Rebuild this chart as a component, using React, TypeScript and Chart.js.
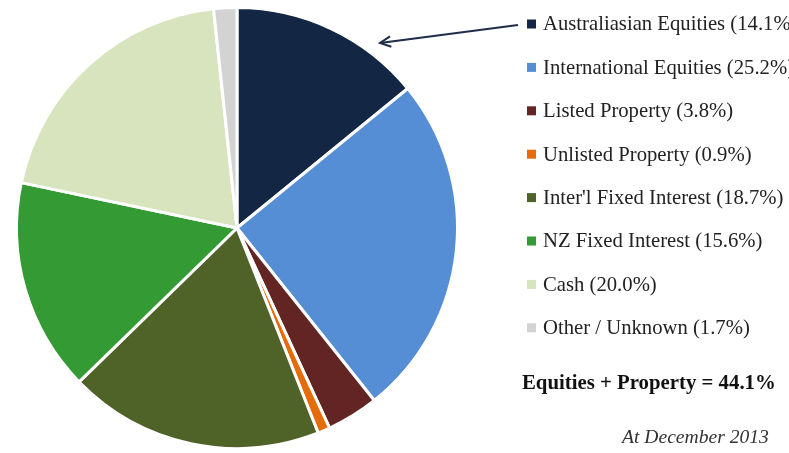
import React, { useEffect, useRef } from "react";
import { Chart, registerables } from "chart.js";

Chart.register(...registerables);

const categories = [
  "Australiasian Equities",
  "International Equities",
  "Listed Property",
  "Unlisted Property",
  "Inter'l Fixed Interest",
  "NZ Fixed Interest",
  "Cash",
  "Other / Unknown",
];
const values = [14.1, 25.2, 3.8, 0.9, 18.7, 15.6, 20.0, 1.7];
const colors = [
  "#132744",
  "#558ed5",
  "#632523",
  "#e46c0a",
  "#4f6228",
  "#349a34",
  "#d7e4bd",
  "#d3d3d3",
];
const summaryText = "Equities + Property = 44.1%";
const dateText = "At December 2013";

const FONT = '"Liberation Serif", "Times New Roman", serif';

const overlayPlugin = {
  id: "overlay",
  afterDraw(chart: any) {
    const ctx = chart.ctx as CanvasRenderingContext2D;
    ctx.save();
    const x0 = 527;
    const y0 = 24;
    const step = 43.4;
    ctx.font = `20.7px ${FONT}`;
    ctx.textBaseline = "middle";
    ctx.textAlign = "left";
    categories.forEach((c, i) => {
      const y = y0 + i * step;
      ctx.fillStyle = colors[i];
      ctx.fillRect(x0, y - 4.5, 9, 9);
      ctx.fillStyle = "#222";
      ctx.fillText(`${c} (${values[i].toFixed(1)}%)`, x0 + 16, y + 1);
    });
    ctx.font = `bold 20.8px ${FONT}`;
    ctx.fillStyle = "#111";
    ctx.fillText(summaryText, 522, 384);
    ctx.font = `italic 19.6px ${FONT}`;
    ctx.fillStyle = "#333";
    ctx.fillText(dateText, 622, 438);
    ctx.strokeStyle = "#1f2d4a";
    ctx.lineWidth = 2;
    ctx.beginPath();
    ctx.moveTo(518, 25);
    ctx.lineTo(380, 43);
    ctx.stroke();
    const ang = Math.atan2(43 - 25, 380 - 518);
    const len = 12;
    ctx.beginPath();
    ctx.moveTo(380 - len * Math.cos(ang - 0.45), 43 - len * Math.sin(ang - 0.45));
    ctx.lineTo(380, 43);
    ctx.lineTo(380 - len * Math.cos(ang + 0.45), 43 - len * Math.sin(ang + 0.45));
    ctx.stroke();
    ctx.restore();
  },
};

export default function App() {
  const ref = useRef<HTMLCanvasElement | null>(null);
  useEffect(() => {
    if (!ref.current) return;
    const chart = new Chart(ref.current, {
      type: "pie",
      data: {
        labels: categories,
        datasets: [
          {
            data: values,
            backgroundColor: colors,
            borderColor: "#ffffff",
            borderWidth: 3,
          },
        ],
      },
      options: {
        animation: false,
        responsive: false,
        maintainAspectRatio: false,
        layout: { padding: { left: 15, right: 330, top: 6, bottom: 3 } },
        plugins: {
          legend: { display: false },
          tooltip: { enabled: false },
          title: { display: false },
        },
      },
      plugins: [overlayPlugin],
    });
    return () => chart.destroy();
  }, []);
  return (
    <div style={{ position: "fixed", left: 0, top: 0, width: 789, height: 453, background: "#fff", overflow: "hidden" }}>
      <canvas ref={ref} width={789} height={453} style={{ width: 789, height: 453, display: "block" }} />
    </div>
  );
}
